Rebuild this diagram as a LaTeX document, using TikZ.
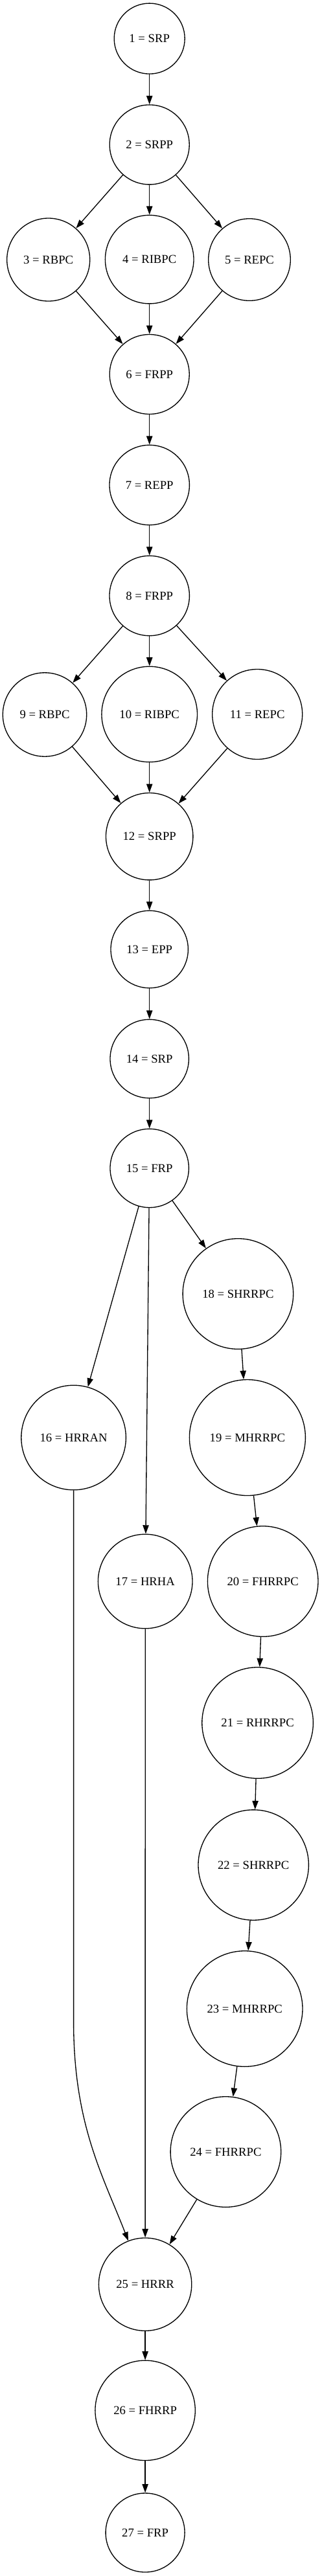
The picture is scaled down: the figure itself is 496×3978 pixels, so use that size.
\documentclass[tikz,border=0pt]{standalone}
\usepackage{fontspec}
\setmainfont{Liberation Serif}
\usetikzlibrary{positioning,arrows.meta}

\tikzset{
  stage/.style={circle,draw,line width=1.33pt,inner sep=0pt,minimum size=#1pt},
  stage/.default=123
}

\begin{document}
\begin{tikzpicture}[x=1pt,y=-1pt,on grid,line width=1.33pt,
    font=\fontsize{18.67}{22}\selectfont,
    >={Triangle[length=13.3pt,width=9.3pt]}]
   \useasboundingbox (0,0) rectangle (496,3978);
   \node[stage=109]   (s_01) at (230.7,59.6) {1 = SRP};
   \node[stage=123]   (s_02) [below=163.8pt of s_01] {2 = SRPP};
   \node[stage=128]   (s_03) [below left=177.6pt and 156pt of s_02] {3 = RBPC};
   \node[stage=136.6] (s_04) [below=177.2pt of s_02] {4 = RIBPC};
   \node[stage=126.6] (s_05) [below right=177.6pt and 154.3pt of s_02] {5 = REPC};
   \node[stage=123]   (s_06) [below=354.6pt of s_02] {6 = FRPP};
   \node[stage=123.4] (s_07) [below=171pt of s_06] {7 = REPP};
   \node[stage=123.4] (s_08) [below=171pt of s_07] {8 = FRPP};
   \node[stage=129.4] (s_09) [below left=183.5pt and 161.7pt of s_08] {9 = RBPC};
   \node[stage=147.6] (s_10) [below=183pt of s_08] {10 = RIBPC};
   \node[stage=139]   (s_11) [below right=183pt and 166.5pt of s_08] {11 = REPC};
   \node[stage=134.4] (s_12) [below=371.7pt of s_08] {12 = SRPP};
   \node[stage=119.4] (s_13) [below=174.3pt of s_12] {13 = EPP};
   \node[stage=121.4] (s_14) [below=169pt of s_13] {14 = SRP};
   \node[stage=121.4] (s_15) [below=169pt of s_14] {15 = FRP};
   \node[stage=161.6] (s_16) [below left=416pt and 117.1pt of s_15] {16 = HRRAN};
   \node[stage=145.6] (s_17) [below left=638pt and 6.5pt of s_15] {17 = HRHA};
   \node[stage=170.6] (s_18) [below right=194pt and 136.7pt of s_15] {18 = SHRRPC};
   \node[stage=179]   (s_19) [below right=222pt and 14.5pt of s_18] {19 = MHRRPC};
   \node[stage=170.6] (s_20) [below right=222pt and 23.8pt of s_19] {20 = FHRRPC};
   \node[stage=171.6] (s_21) [below left=218.5pt and 8.1pt of s_20] {21 = RHRRPC};
   \node[stage=170.4] (s_22) [below left=219.5pt and 6.4pt of s_21] {22 = SHRRPC};
   \node[stage=178.6] (s_23) [below left=222pt and 13.5pt of s_22] {23 = MHRRPC};
   \node[stage=170.6] (s_24) [below left=221pt and 29.3pt of s_23] {24 = FHRRPC};
   \node[stage=143.4] (s_25) [below left=204.6pt and 124.3pt of s_24] {25 = HRRR};
   \node[stage=154.4] (s_26) [below=194.7pt of s_25] {26 = FHRRP};
   \node[stage=122]   (s_27) [below=188.7pt of s_26] {27 = FRP};
   \coordinate[below=900pt of s_16] (k_16);
    \path[->]
    (s_01) edge (s_02)
    (s_02) edge (s_03)
    (s_02) edge (s_04)
    (s_02) edge (s_05)
    (s_03) edge (s_06)
    (s_04) edge (s_06)
    (s_05) edge (s_06)
    (s_06) edge (s_07)
    (s_07) edge (s_08)
    (s_08) edge (s_09)
    (s_08) edge (s_10)
    (s_08) edge (s_11)
    (s_09) edge (s_12)
    (s_10) edge (s_12)
    (s_11) edge (s_12)
    (s_12) edge (s_13)
    (s_13) edge (s_14)
    (s_14) edge (s_15)
    (s_15) edge (s_16)
    (s_15) edge (s_17)
    (s_15) edge (s_18)
    (s_18) edge (s_19)
    (s_19) edge (s_20)
    (s_20) edge (s_21)
    (s_21) edge (s_22)
    (s_22) edge (s_23)
    (s_23) edge (s_24)
    (s_17) edge (s_25)
    (s_24) edge (s_25)
    (s_25) edge (s_26)
    (s_26) edge (s_27);
   % long way round from 16 down to 25
   \draw[->] (s_16) -- (k_16) .. controls (113.2,3280) and (159,3360) .. (s_25);
\end{tikzpicture}
\end{document}
